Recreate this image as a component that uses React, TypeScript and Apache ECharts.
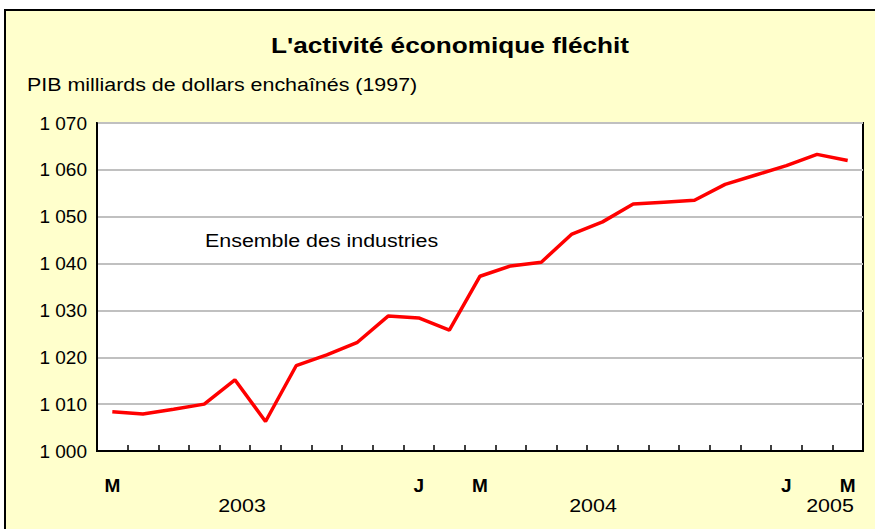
import React, { useEffect, useRef } from "react";
import * as echarts from "echarts";

const months = ["M", "A", "M", "J", "J", "A", "S", "O", "N", "D", "J", "F", "M", "A", "M", "J", "J", "A", "S", "O", "N", "D", "J", "F", "M"];
const shownMonthIdx = [0, 10, 12, 22, 24];
const gdp = [1008.4, 1007.9, 1008.9, 1010.0, 1015.2, 1006.3, 1018.2, 1020.5, 1023.2, 1028.8, 1028.4, 1025.8, 1037.3, 1039.5, 1040.3, 1046.3, 1048.9, 1052.7, 1053.1, 1053.5, 1056.9, 1058.9, 1060.9, 1063.3, 1062.0];
const years = ["2003", "2004", "2005"];
const yearX = [242, 593, 830];
const title = "L'activité économique fléchit";
const subtitle = "PIB milliards de dollars enchaînés (1997)";
const seriesName = "Ensemble des industries";

const FONT = "Liberation Sans, Arial, sans-serif";
const SX = 1.19;

export default function App() {
  const ref = useRef<HTMLDivElement>(null);
  useEffect(() => {
    document.body.style.margin = "0";
    const chart = echarts.init(ref.current!, null, { renderer: "svg" });
    chart.setOption({
      animation: false,
      backgroundColor: "#ffffff",
      textStyle: { fontFamily: FONT },
      graphic: [
        {
          type: "rect",
          z: -10,
          silent: true,
          shape: { x: 5, y: 10, width: 880, height: 530 },
          style: { fill: "#FFFFCC", stroke: "#000000", lineWidth: 2 },
        },
        {
          type: "text",
          x: 450,
          y: 45,
          scaleX: SX,
          style: { text: title, fontFamily: FONT, fontSize: 22, fontWeight: "bold", fill: "#000", textAlign: "center", textVerticalAlign: "middle" },
        },
        {
          type: "text",
          x: 27,
          y: 85,
          scaleX: SX,
          style: { text: subtitle, fontFamily: FONT, fontSize: 18, fill: "#000", textAlign: "left", textVerticalAlign: "middle" },
        },
        {
          type: "text",
          x: 205,
          y: 241,
          z: 10,
          scaleX: SX,
          style: { text: seriesName, fontFamily: FONT, fontSize: 18, fill: "#000", textAlign: "left", textVerticalAlign: "middle" },
        },
        ...years.map((y, i) => ({
          type: "text",
          x: yearX[i],
          y: 506,
          scaleX: SX,
          style: { text: y, fontFamily: FONT, fontSize: 18, fill: "#000", textAlign: "center", textVerticalAlign: "middle" },
        })),
      ],
      grid: {
        left: 97,
        right: 12,
        top: 123,
        bottom: 78,
        show: true,
        backgroundColor: "#ffffff",
        borderColor: "#000000",
        borderWidth: 2,
      },
      xAxis: {
        type: "category",
        data: months,
        boundaryGap: true,
        axisLine: { lineStyle: { color: "#000", width: 2 } },
        axisTick: { show: true, inside: true, length: 6, interval: 0, lineStyle: { color: "#000", width: 1.5 } },
        axisLabel: {
          interval: 0,
          margin: 25,
          fontFamily: FONT,
          fontSize: 19,
          fontWeight: "bold",
          color: "#000",
          formatter: (v: string, i: number) => (shownMonthIdx.includes(i) ? v : ""),
        },
        splitLine: { show: false },
      },
      yAxis: {
        type: "value",
        min: 1000,
        max: 1070,
        interval: 10,
        axisLine: { show: true, lineStyle: { color: "#000", width: 2 } },
        axisTick: { show: false },
        axisLabel: {
          margin: 10,
          fontFamily: FONT,
          fontSize: 19,
          color: "#000",
          formatter: (v: number) => {
            const s = String(Math.round(v));
            return s.length > 3 ? s.slice(0, s.length - 3) + " " + s.slice(-3) : s;
          },
        },
        splitLine: { show: true, lineStyle: { color: "#C0C0C0", width: 2 } },
      },
      series: [
        {
          name: seriesName,
          type: "line",
          data: gdp,
          showSymbol: false,
          symbol: "none",
          lineStyle: { color: "#FF0000", width: 3.5 },
          z: 5,
        },
      ],
    });
    return () => chart.dispose();
  }, []);
  return <div ref={ref} style={{ position: "absolute", left: 0, top: 0, width: 875, height: 529 }} />;
}
